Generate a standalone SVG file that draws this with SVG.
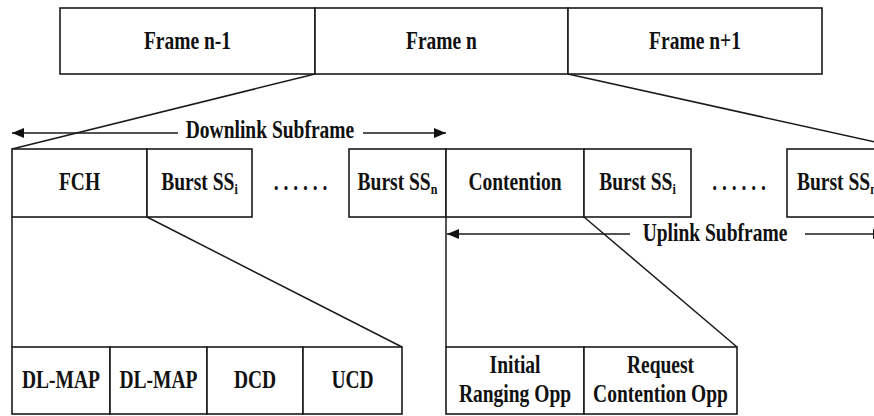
<svg xmlns="http://www.w3.org/2000/svg" width="874" height="416" viewBox="0 0 874 416">
<style>
  .box { fill: #ffffff; stroke: #1a1a1a; stroke-width: 1.6; }
  .ln { fill: none; stroke: #1a1a1a; stroke-width: 1.5; }
  .t { font-family: "Liberation Serif", "Times New Roman", serif; font-weight: bold; font-size: 19.5px; fill: #111111; text-anchor: middle; }
  .ts { text-anchor: start; }
  .sub { font-size: 12px; }
</style>
<defs>
  <marker id="ah" viewBox="0 0 12 10" refX="12" refY="5" markerWidth="12" markerHeight="10" markerUnits="userSpaceOnUse" orient="auto">
    <path d="M0,0 L12,5 L0,10 Z" fill="#111111"/>
  </marker>
</defs>
<rect width="874" height="416" fill="#ffffff"/>

<g id="connectors">
  <line class="ln" x1="315" y1="74" x2="12" y2="149"/>
  <line class="ln" x1="568" y1="74" x2="907" y2="149"/>
  <line class="ln" x1="147" y1="217" x2="402" y2="347"/>
  <line class="ln" x1="584" y1="217" x2="737" y2="347"/>
  <line class="ln" x1="12" y1="217" x2="12" y2="347"/>
  <line class="ln" x1="446" y1="217" x2="446" y2="347"/>
  <line class="ln" x1="178" y1="133" x2="12" y2="133" marker-end="url(#ah)"/>
  <line class="ln" x1="363" y1="133" x2="446" y2="133" marker-end="url(#ah)"/>
  <line class="ln" x1="630" y1="234" x2="447" y2="234" marker-end="url(#ah)"/>
  <line class="ln" x1="805" y1="234" x2="885" y2="234" marker-end="url(#ah)"/>
</g>

<g id="downlink-label">
  <text class="t" transform="translate(270,138) scale(1,1.25)">Downlink Subframe</text>
</g>
<g id="uplink-label">
  <text class="t" transform="translate(715,241) scale(1,1.25)">Uplink Subframe</text>
</g>

<g id="frame-n-1">
  <rect class="box" x="60" y="8" width="255" height="66"/>
  <text class="t" transform="translate(187.5,49) scale(1,1.25)">Frame n-1</text>
</g>
<g id="frame-n">
  <rect class="box" x="315" y="8" width="253" height="66"/>
  <text class="t" transform="translate(441.5,49) scale(1,1.25)">Frame n</text>
</g>
<g id="frame-n1">
  <rect class="box" x="568" y="8" width="254" height="66"/>
  <text class="t" transform="translate(695,49) scale(1,1.25)">Frame n+1</text>
</g>

<g id="fch">
  <rect class="box" x="12" y="149" width="135" height="68"/>
  <text class="t" transform="translate(79.5,190) scale(1,1.25)">FCH</text>
</g>
<g id="dl-burst-i">
  <rect class="box" x="147" y="149" width="105" height="68"/>
  <text class="t" transform="translate(199.5,190) scale(1,1.25)">Burst SS<tspan class="sub" dy="3">i</tspan></text>
</g>
<g id="dl-dots">
  <text class="t" transform="translate(300.5,190) scale(1,1.25)">. . . . . .</text>
</g>
<g id="dl-burst-n">
  <rect class="box" x="349" y="149" width="97" height="68"/>
  <text class="t" transform="translate(397.5,190) scale(1,1.25)">Burst SS<tspan class="sub" dy="3">n</tspan></text>
</g>
<g id="contention">
  <rect class="box" x="446" y="149" width="138" height="68"/>
  <text class="t" transform="translate(515,190) scale(1,1.25)">Contention</text>
</g>
<g id="ul-burst-i">
  <rect class="box" x="584" y="149" width="107" height="68"/>
  <text class="t" transform="translate(637.5,190) scale(1,1.25)">Burst SS<tspan class="sub" dy="3">i</tspan></text>
</g>
<g id="ul-dots">
  <text class="t" transform="translate(739,190) scale(1,1.25)">. . . . . .</text>
</g>
<g id="ul-burst-n">
  <rect class="box" x="787" y="149" width="120" height="68"/>
  <text class="t ts" transform="translate(797,190) scale(1,1.25)">Burst SS<tspan class="sub" dy="3">n</tspan></text>
</g>

<g id="dl-map-1">
  <rect class="box" x="12" y="347" width="98" height="67"/>
  <text class="t" transform="translate(61,388) scale(1,1.25)">DL-MAP</text>
</g>
<g id="dl-map-2">
  <rect class="box" x="110" y="347" width="97" height="67"/>
  <text class="t" transform="translate(158.5,388) scale(1,1.25)">DL-MAP</text>
</g>
<g id="dcd">
  <rect class="box" x="207" y="347" width="96" height="67"/>
  <text class="t" transform="translate(255,388) scale(1,1.25)">DCD</text>
</g>
<g id="ucd">
  <rect class="box" x="303" y="347" width="99" height="67"/>
  <text class="t" transform="translate(352.5,388) scale(1,1.25)">UCD</text>
</g>

<g id="initial-ranging">
  <rect class="box" x="446" y="347" width="138" height="67"/>
  <text class="t" transform="translate(515,373) scale(1,1.25)">Initial</text>
  <text class="t" transform="translate(515,402) scale(1,1.25)">Ranging Opp</text>
</g>
<g id="request-contention">
  <rect class="box" x="584" y="347" width="153" height="67"/>
  <text class="t" transform="translate(660.5,373) scale(1,1.25)">Request</text>
  <text class="t" transform="translate(660.5,402) scale(1,1.25)">Contention Opp</text>
</g>
</svg>
